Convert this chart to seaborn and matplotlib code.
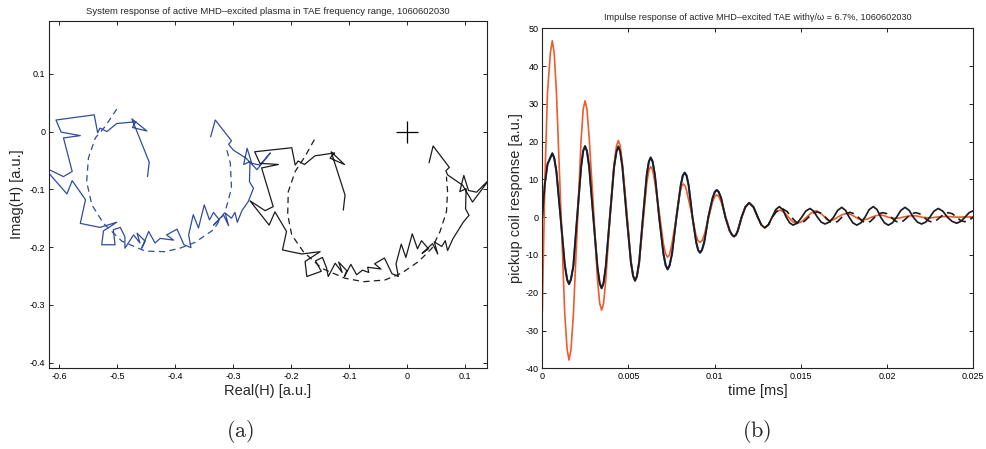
import matplotlib
matplotlib.use("Agg")
import matplotlib.pyplot as plt
import seaborn as sns

# ---------------- panel (a): complex system response H ----------------
blue_re = [-0.448, -0.445, -0.475, -0.449, -0.474, -0.468, -0.501, -0.518, -0.530, -0.534,
           -0.540, -0.606, -0.597, -0.564, -0.593, -0.578, -0.593, -0.628, -0.587, -0.578,
           -0.555, -0.564, -0.530, -0.501, -0.524, -0.527, -0.504, -0.507, -0.495, -0.487,
           -0.487, -0.472, -0.461, -0.466, -0.452, -0.458, -0.446, -0.435, -0.426, -0.403,
           -0.415, -0.397, -0.385, -0.373, -0.377, -0.369, -0.360, -0.350, -0.341, -0.334,
           -0.324, -0.334, -0.317, -0.308, -0.314, -0.303, -0.297, -0.293, -0.285, -0.274,
           -0.265, -0.272, -0.271, -0.282, -0.276, -0.268, -0.254, -0.236, -0.259, -0.278,
           -0.300, -0.308, -0.303, -0.331, -0.339]
blue_im = [-0.078, -0.053, 0.022, 0.001, 0.007, 0.017, 0.014, 0.000, 0.006, -0.002,
           0.029, 0.020, -0.001, -0.007, -0.011, -0.069, -0.078, -0.061, -0.108, -0.085,
           -0.118, -0.159, -0.166, -0.157, -0.172, -0.196, -0.196, -0.170, -0.166, -0.182,
           -0.202, -0.179, -0.193, -0.176, -0.190, -0.202, -0.173, -0.193, -0.185, -0.188,
           -0.179, -0.169, -0.196, -0.201, -0.179, -0.144, -0.167, -0.127, -0.153, -0.140,
           -0.153, -0.162, -0.144, -0.163, -0.141, -0.150, -0.140, -0.157, -0.137, -0.121,
           -0.098, -0.087, -0.052, -0.057, -0.029, -0.055, -0.058, -0.037, -0.066, -0.046,
           -0.032, -0.022, -0.016, 0.020, -0.009]

blue_fit_re = [-0.501, -0.521, -0.538, -0.550, -0.553, -0.544, -0.524, -0.492, -0.452,
               -0.418, -0.392, -0.366, -0.334, -0.314, -0.303, -0.305, -0.311]
blue_fit_im = [0.039, 0.009, -0.011, -0.046, -0.087, -0.127, -0.159, -0.190, -0.207,
               -0.208, -0.202, -0.192, -0.170, -0.139, -0.098, -0.055, -0.032]

black_re = [-0.110, -0.107, -0.131, -0.108, -0.133, -0.125, -0.159, -0.177, -0.188, -0.193,
            -0.199, -0.263, -0.254, -0.222, -0.251, -0.231, -0.245, -0.271, -0.238, -0.228,
            -0.208, -0.215, -0.182, -0.150, -0.176, -0.173, -0.148, -0.158, -0.146, -0.139,
            -0.136, -0.124, -0.112, -0.118, -0.104, -0.108, -0.097, -0.087, -0.077, -0.066,
            -0.068, -0.045, -0.056, -0.039, -0.026, -0.015, -0.019, -0.010, -0.002, 0.009,
            0.018, 0.025, 0.037, 0.026, 0.044, 0.053, 0.047, 0.060, 0.066, 0.070,
            0.079, 0.097, 0.107, 0.101, 0.102, 0.091, 0.098, 0.106, 0.120, 0.142,
            0.113, 0.096, 0.070, 0.067, 0.073, 0.045, 0.038]
black_im = [-0.136, -0.110, -0.035, -0.057, -0.046, -0.037, -0.042, -0.057, -0.051, -0.058,
            -0.028, -0.035, -0.055, -0.057, -0.063, -0.130, -0.137, -0.120, -0.162, -0.139,
            -0.173, -0.205, -0.212, -0.208, -0.225, -0.251, -0.242, -0.224, -0.218, -0.236,
            -0.251, -0.228, -0.244, -0.226, -0.241, -0.251, -0.230, -0.248, -0.240, -0.244,
            -0.235, -0.238, -0.229, -0.219, -0.246, -0.251, -0.229, -0.195, -0.218, -0.177,
            -0.203, -0.189, -0.203, -0.211, -0.194, -0.212, -0.191, -0.199, -0.189, -0.206,
            -0.186, -0.157, -0.145, -0.134, -0.099, -0.104, -0.076, -0.102, -0.105, -0.083,
            -0.122, -0.093, -0.075, -0.068, -0.062, -0.025, -0.054]

black_fit_re = [-0.160, -0.176, -0.193, -0.205, -0.206, -0.199, -0.179, -0.147, -0.107,
                -0.075, -0.038, -0.009, 0.020, 0.043, 0.057, 0.068, 0.070, 0.068]
black_fit_im = [-0.014, -0.043, -0.069, -0.104, -0.144, -0.179, -0.208, -0.237, -0.254,
                -0.260, -0.257, -0.245, -0.225, -0.202, -0.173, -0.139, -0.104, -0.078]

origin_re = [0.0]
origin_im = [0.0]

re_ticks = [-0.6, -0.5, -0.4, -0.3, -0.2, -0.1, 0.0, 0.1]
re_labels = ["-0.6", "-0.5", "-0.4", "-0.3", "-0.2", "-0.1", "0", "0.1"]
im_ticks = [-0.4, -0.3, -0.2, -0.1, 0.0, 0.1]
im_labels = ["-0.4", "-0.3", "-0.2", "-0.1", "0", "0.1"]

# ---------------- panel (b): impulse response ----------------
t_meas = [0, 0.00015, 0.0003, 0.00047, 0.00058, 0.00069, 0.00082, 0.00106, 0.0013, 0.00144, 0.00155, 0.00166, 0.0018,
          0.00202, 0.00225, 0.00237, 0.00248, 0.00259, 0.00272, 0.00296, 0.0032, 0.00333, 0.00344, 0.00355, 0.00368,
          0.00392, 0.00416, 0.0043, 0.00441, 0.00452, 0.00465, 0.0049, 0.00514, 0.00527, 0.00538, 0.00549, 0.00562,
          0.00584, 0.00606, 0.00618, 0.00629, 0.0064, 0.00653, 0.00678, 0.00703, 0.00716, 0.00727, 0.00738, 0.00752,
          0.00778, 0.00803, 0.00815, 0.00826, 0.00837, 0.00849, 0.00871, 0.00893, 0.00904, 0.00915, 0.00926, 0.00939,
          0.00963, 0.00988, 0.01001, 0.01012, 0.01023, 0.01037, 0.01062, 0.01087, 0.01101, 0.01112, 0.01123, 0.01134,
          0.01156, 0.01178, 0.0120, 0.01225, 0.0125, 0.0127, 0.0129,
          0.01312, 0.01333, 0.01354, 0.01375, 0.01395, 0.01415, 0.01435, 0.01455,
          0.0148, 0.01505, 0.01528, 0.01553, 0.01574, 0.01596, 0.01618, 0.0164,
          0.01665, 0.0169, 0.01713, 0.01737, 0.01759, 0.0178, 0.01802, 0.01824,
          0.01848, 0.01872, 0.01896, 0.0192, 0.01942, 0.01963, 0.01985, 0.02007,
          0.02031, 0.02055, 0.0208, 0.02104, 0.02128, 0.02152, 0.02176, 0.022,
          0.02224, 0.02248, 0.02272, 0.02297, 0.02323, 0.0235, 0.02377, 0.02404,
          0.02428, 0.02452, 0.02476, 0.025]
y_meas = [0.0, 9.0, 14.0, 15.8, 16.9, 15.7, 12.0, 0.0, -12.5, -16.5, -17.7, -16.5, -13.0,
          0.0, 13.3, 17.5, 18.8, 17.5, 13.3, 0.0, -13.3, -17.5, -18.8, -17.5, -13.2,
          0.0, 13.2, 17.4, 18.7, 17.4, 13.2, 0.0, -11.9, -15.6, -16.8, -15.6, -11.9,
          0.0, 11.2, 14.7, 15.8, 14.7, 11.2, 0.0, -9.8, -12.8, -13.8, -12.8, -9.8,
          0.0, 8.4, 11.0, 11.8, 11.0, 8.4, 0.0, -6.7, -8.7, -9.4, -8.7, -6.7,
          0.0, 5.1, 6.7, 7.2, 6.7, 5.1, 0.0, -3.6, -4.7, -5.1, -4.7, -3.6,
          0.0, 2.7, 3.8, 2.7, 0.0, -2.0, -2.8,
          -2.0, 0.0, 2.0, 2.8, 2.0, 0.0, -1.5, -2.1,
          -1.5, 0.0, 1.6, 2.3, 1.6, 0.0, -1.3, -1.8,
          -1.3, 0.0, 1.8, 2.6, 1.8, 0.0, -1.5, -2.1,
          -1.5, 0.0, 2.0, 2.8, 2.0, 0.0, -1.5, -2.1,
          -1.5, 0.0, 1.8, 2.6, 1.8, 0.0, -1.3, -1.8,
          -1.3, 0.0, 1.6, 2.3, 1.6, 0.0, -1.1, -1.6,
          -1.1, 0.0, 1.2, 1.7]

t_dash = [0.0125, 0.0127, 0.0129, 0.01312, 0.01333, 0.0136, 0.01395, 0.0142,
          0.01445, 0.0147, 0.01495, 0.0152, 0.01545, 0.0157, 0.01595, 0.0162,
          0.01643, 0.01666, 0.0169, 0.01714, 0.01738, 0.01762, 0.01785, 0.01809,
          0.01833, 0.01857, 0.0188, 0.01904, 0.01928, 0.01952, 0.01975, 0.02,
          0.02023, 0.02047, 0.0207, 0.02094, 0.02118, 0.02142, 0.02165, 0.02189,
          0.02213, 0.02237, 0.0226, 0.02284, 0.02308, 0.02332, 0.02355, 0.02379,
          0.02403, 0.02427, 0.0245, 0.02475, 0.025]
y_dash = [0.0, -2.0, -2.8, -2.0, 0.0, 1.6, 2.2, 1.5,
          0.0, -1.2, -1.6, -1.1, 0.0, 1.0, 1.4, 1.0,
          0.0, -1.1, -1.5, -1.1, 0.0, 0.9, 1.3, 0.9,
          0.0, -1.1, -1.5, -1.1, 0.0, 0.9, 1.2, 0.9,
          0.0, -1.0, -1.4, -1.0, 0.0, 0.9, 1.2, 0.9,
          0.0, -0.9, -1.3, -0.9, 0.0, 0.9, 1.2, 0.9,
          0.0, -0.9, -1.2, -0.8, 0.0]

t_fit = [0, 0.00015, 0.0003, 0.00047, 0.00058, 0.00069, 0.00082, 0.00106, 0.0013, 0.00144, 0.00155, 0.00166, 0.0018,
         0.00202, 0.00225, 0.00237, 0.00248, 0.00259, 0.00272, 0.00296, 0.0032, 0.00333, 0.00344, 0.00355, 0.00368,
         0.00392, 0.00416, 0.0043, 0.00441, 0.00452, 0.00465, 0.0049, 0.00514, 0.00527, 0.00538, 0.00549, 0.00562,
         0.00584, 0.00606, 0.00618, 0.00629, 0.0064, 0.00653, 0.00678, 0.00703, 0.00716, 0.00727, 0.00738, 0.00752,
         0.00775, 0.00797, 0.00808, 0.00818, 0.0083, 0.00842, 0.00866, 0.0089, 0.00903, 0.00915, 0.00927, 0.0094,
         0.00965, 0.00988, 0.01001, 0.01012, 0.01023, 0.01037, 0.01062, 0.01087, 0.01101, 0.01112, 0.01123, 0.01134,
         0.01156, 0.01178, 0.0120, 0.01225, 0.0125, 0.0127, 0.0129,
         0.01312, 0.01333, 0.01357, 0.0138, 0.01404, 0.01428, 0.01452, 0.01475,
         0.01504, 0.01533, 0.01562, 0.0159, 0.0161, 0.0163, 0.0165, 0.01669,
         0.01693, 0.01717, 0.01742, 0.01766, 0.0179, 0.01814, 0.01838, 0.01862,
         0.01886, 0.0191, 0.01935, 0.0196, 0.01983, 0.02005, 0.02028, 0.0205,
         0.02075, 0.021, 0.02125, 0.0215, 0.02175, 0.022, 0.0225, 0.023,
         0.0235, 0.024, 0.025]
y_fit = [-25.0, 10.0, 33.0, 43.5, 46.7, 43.5, 33.0, 4.0, -25.5, -35.0, -37.8, -35.2, -26.0,
         -3.5, 20.5, 28.5, 30.8, 28.6, 21.0, 3.0, -16.5, -22.8, -24.6, -22.9, -16.8,
         0.0, 13.8, 18.8, 20.3, 18.9, 14.0, 1.5, -11.5, -15.6, -16.8, -15.7, -11.8,
         -1.5, 9.0, 12.4, 13.4, 12.5, 9.2, 1.4, -7.2, -9.8, -10.6, -9.9, -7.0,
         -0.8, 6.2, 8.2, 8.8, 8.2, 6.0, 1.0, -4.5, -6.2, -6.7, -6.2, -4.6,
         0.0, 4.1, 5.5, 5.9, 5.5, 4.1, 0.4, -3.6, -4.7, -5.1, -4.7, -3.6,
         0.0, 2.7, 3.8, 2.6, 0.0, -2.0, -2.9,
         -2.0, 0.0, 1.4, 1.9, 1.3, 0.0, -1.2, -1.7,
         -1.2, 0.0, 1.2, 1.7, 1.2, 0.4, -0.6, -0.9,
         -0.6, 0.1, 0.7, 1.0, 0.7, 0.1, -0.5, -0.7,
         -0.5, 0.0, 0.4, 0.6, 0.4, 0.0, -0.2, -0.3,
         -0.2, 0.1, 0.3, 0.4, 0.3, 0.0, -0.2, 0.1,
         0.2, 0.0, 0.1]

t_ticks = [0, 0.005, 0.01, 0.015, 0.02, 0.025]
t_labels = ["0", "0.005", "0.01", "0.015", "0.02", "0.025"]
resp_ticks = [-40, -30, -20, -10, 0, 10, 20, 30, 40, 50]
resp_labels = ["-40", "-30", "-20", "-10", "0", "10", "20", "30", "40", "50"]

BLUE = "#2f4d9c"
BLACK = "#1c1c1c"
ORANGE = "#ef5b2b"

sns.set_style("ticks")
plt.rcParams["font.family"] = ["Liberation Sans", "DejaVu Sans"]
plt.rcParams["mathtext.fontset"] = "cm"
plt.rcParams["lines.solid_joinstyle"] = "round"

fig = plt.figure(figsize=(9.86, 4.49), dpi=100)
ax1 = fig.add_axes([0.0497, 0.1797, 0.4442, 0.7742])
ax2 = fig.add_axes([0.5500, 0.1797, 0.4371, 0.7573])

# --- (a) ---
sns.lineplot(x=blue_re, y=blue_im, sort=False, estimator=None, color=BLUE, linewidth=0.9, ax=ax1)
sns.lineplot(x=blue_fit_re, y=blue_fit_im, sort=False, estimator=None, color=BLUE,
             linewidth=0.9, linestyle=(0, (5, 3.5)), ax=ax1)
sns.lineplot(x=black_re, y=black_im, sort=False, estimator=None, color=BLACK, linewidth=0.9, ax=ax1)
sns.lineplot(x=black_fit_re, y=black_fit_im, sort=False, estimator=None, color=BLACK,
             linewidth=0.9, linestyle=(0, (5, 3.5)), ax=ax1)
sns.scatterplot(x=origin_re, y=origin_im, marker="+", s=260, color="black", linewidth=0.9, ax=ax1)

ax1.set_xlim(-0.618, 0.138)
ax1.set_ylim(-0.41, 0.192)
ax1.set_xticks(re_ticks, re_labels)
ax1.set_yticks(im_ticks, im_labels)
ax1.set_xlabel("Real(H) [a.u.]", fontsize=10.5, labelpad=2)
ax1.set_ylabel("Imag(H) [a.u.]", fontsize=10.5, labelpad=4)
ax1.set_title("System response of active MHD\u2013excited plasma in TAE frequency range, 1060602030",
              fontsize=6.8, pad=5)

# --- (b) ---
early = [i for i, t in enumerate(t_meas) if t <= 0.0125]
sns.lineplot(x=[t_meas[i] for i in early], y=[y_meas[i] for i in early], sort=False,
             estimator=None, color=BLUE, linewidth=1.5, ax=ax2)
sns.lineplot(x=t_fit, y=y_fit, sort=False, estimator=None, color=ORANGE, linewidth=1.2, ax=ax2)
sns.lineplot(x=t_dash, y=y_dash, sort=False, estimator=None, color=BLACK, linewidth=1.2,
             linestyle=(0, (5, 3)), ax=ax2)
sns.lineplot(x=t_meas, y=y_meas, sort=False, estimator=None, color=BLACK, linewidth=1.25, ax=ax2)

ax2.set_xlim(0, 0.025)
ax2.set_ylim(-40, 50)
ax2.set_xticks(t_ticks, t_labels)
ax2.set_yticks(resp_ticks, resp_labels)
ax2.set_xlabel("time [ms]", fontsize=10.5, labelpad=2)
ax2.set_ylabel("pickup coil response [a.u.]", fontsize=10.5, labelpad=2)
ax2.set_title("Impulse response of active MHD\u2013excited TAE with\u03b3/\u03c9 = 6.7%, 1060602030",
              fontsize=6.6, pad=6)

for ax in (ax1, ax2):
    ax.tick_params(direction="in", top=True, right=True, length=3, width=0.6,
                   labelsize=6.5, pad=2.5, colors="black")
    for sp in ax.spines.values():
        sp.set_visible(True)
        sp.set_linewidth(0.8)
        sp.set_color("#222222")

fig.text(0.2434, 0.038, r"$\mathrm{(a)}$", fontsize=16, ha="center", va="center")
fig.text(0.7674, 0.038, r"$\mathrm{(b)}$", fontsize=16, ha="center", va="center")

fig.savefig("out.png", dpi=100)
